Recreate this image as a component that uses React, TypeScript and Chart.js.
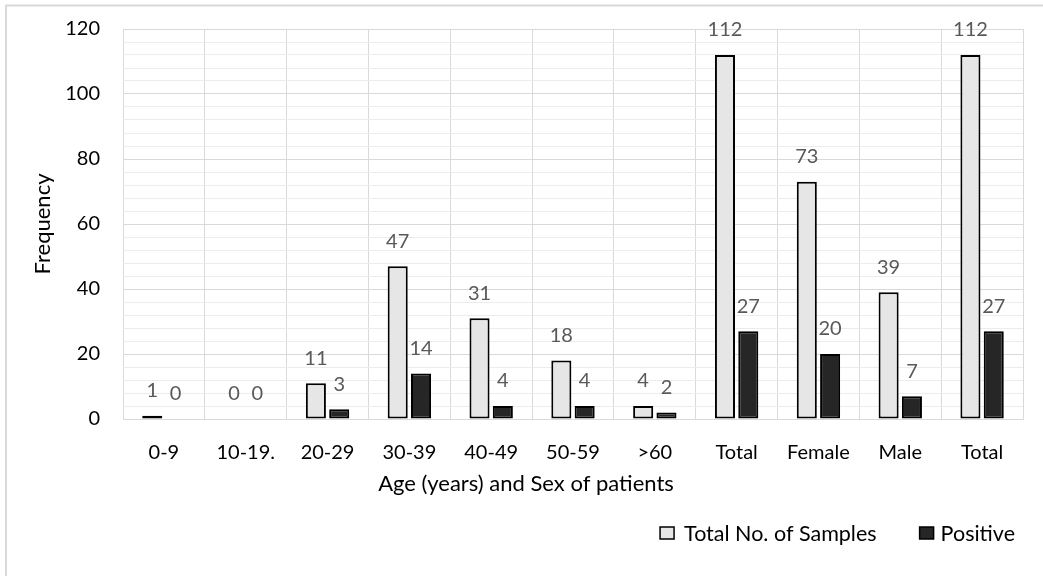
import React, { useEffect, useRef } from 'react';
import { Chart, registerables } from 'chart.js';

Chart.register(...registerables);

const FONT = 'Lato, "Open Sans", sans-serif';

const categories = ['0-9', '10-19.', '20-29', '30-39', '40-49', '50-59', '>60', 'Total', 'Female', 'Male', 'Total'];
const totalSamples = [1, 0, 11, 47, 31, 18, 4, 112, 73, 39, 112];
const positive = [0, 0, 3, 14, 4, 4, 2, 27, 20, 7, 27];
const seriesNames = ['Total No. of Samples', 'Positive'];
const yTitle = 'Frequency';
const xTitle = 'Age (years) and Sex of patients';

const dataLabels = {
  id: 'dataLabels',
  afterDatasetsDraw(chart: any) {
    const ctx = chart.ctx;
    ctx.save();
    ctx.font = `20px ${FONT}`;
    ctx.fillStyle = '#595959';
    ctx.textAlign = 'center';
    ctx.textBaseline = 'middle';
    chart.data.datasets.forEach((ds: any, i: number) => {
      const meta = chart.getDatasetMeta(i);
      meta.data.forEach((el: any, j: number) => {
        ctx.fillText(String(ds.data[j]), el.x, el.y - 25);
      });
    });
    ctx.restore();
  },
};

const frameAndLegend = {
  id: 'frameAndLegend',
  beforeDraw(chart: any) {
    const ctx = chart.ctx;
    ctx.save();
    ctx.fillStyle = '#ffffff';
    ctx.fillRect(0, 0, chart.width, chart.height);
    ctx.strokeStyle = '#d9d9d9';
    ctx.lineWidth = 2;
    ctx.beginPath();
    ctx.moveTo(6, chart.height + 5);
    ctx.lineTo(6, 5.5);
    ctx.lineTo(chart.width + 5, 5.5);
    ctx.stroke();
    ctx.restore();
  },
  afterDraw(chart: any) {
    const ctx = chart.ctx;
    const ds = chart.data.datasets;
    ctx.save();
    // x axis title (Excel places it left of the plot centre)
    ctx.font = `22px ${FONT}`;
    ctx.fillStyle = '#000000';
    ctx.textAlign = 'center';
    ctx.textBaseline = 'middle';
    ctx.fillText(xTitle, 526, 484);

    ctx.font = `21.5px ${FONT}`;
    ctx.textAlign = 'left';
    const cy = 533;
    const boxW = 14;
    const boxH = 12;
    const w1 = ctx.measureText(ds[0].label).width;
    const w2 = ctx.measureText(ds[1].label).width;
    const t2 = chart.width - 28 - w2;
    const b2 = t2 - 7 - boxW;
    const t1 = b2 - 43 - w1;
    const b1 = t1 - 10 - boxW;
    const items = [
      { b: b1, t: t1, d: ds[0] },
      { b: b2, t: t2, d: ds[1] },
    ];
    items.forEach((it) => {
      ctx.fillStyle = it.d.backgroundColor;
      ctx.fillRect(it.b, cy - boxH / 2, boxW, boxH);
      ctx.strokeStyle = it.d.borderColor;
      ctx.lineWidth = 1.5;
      ctx.strokeRect(it.b, cy - boxH / 2, boxW, boxH);
      ctx.fillStyle = '#000000';
      ctx.fillText(it.d.label, it.t, cy + 1);
    });
    ctx.restore();
  },
};

export default function App() {
  const ref = useRef<HTMLCanvasElement>(null);

  useEffect(() => {
    const chart = new Chart(ref.current as HTMLCanvasElement, {
      type: 'bar',
      data: {
        labels: categories,
        datasets: [
          {
            label: seriesNames[0],
            data: totalSamples,
            backgroundColor: '#e7e6e6',
            borderColor: '#000000',
            borderWidth: 2,
            borderSkipped: false,
            categoryPercentage: 0.57,
            barPercentage: 0.86,
          },
          {
            label: seriesNames[1],
            data: positive,
            backgroundColor: '#262626',
            borderColor: '#000000',
            borderWidth: 2,
            borderSkipped: false,
            categoryPercentage: 0.57,
            barPercentage: 0.86,
          },
        ],
      },
      options: {
        responsive: false,
        animation: false,
        layout: { padding: { top: 29, right: 20, left: 0, bottom: 77 } },
        plugins: {
          legend: { display: false },
          tooltip: { enabled: false },
        },
        scales: {
          x: {
            grid: { offset: true, drawTicks: false, color: '#d9d9d9', lineWidth: 1 },
            border: { color: '#d9d9d9', width: 1 },
            ticks: {
              padding: 22,
              color: '#000000',
              font: { family: FONT, size: 20 },
              autoSkip: false,
              maxRotation: 0,
            },
            afterFit: (s: any) => {
              s.height = 80;
            },
          },
          y: {
            min: 0,
            max: 120,
            grid: {
              drawTicks: false,
              color: (c: any) => (c.tick && c.tick.value % 20 === 0 ? '#d9d9d9' : '#ececec'),
              lineWidth: 1,
            },
            border: { display: false },
            ticks: {
              stepSize: 4,
              autoSkip: false,
              maxTicksLimit: 100,
              padding: 23,
              color: '#000000',
              font: { family: FONT, size: 20 },
              callback: (v: any) => (Number(v) % 20 === 0 ? String(v) : ''),
            },
            title: {
              display: true,
              text: yTitle,
              color: '#000000',
              font: { family: FONT, size: 22 },
              padding: { top: 30, bottom: 0 },
            },
            afterFit: (s: any) => {
              s.width = 123;
              s.paddingTop = 0;
              s.paddingBottom = 0;
            },
          },
        },
      },
      plugins: [frameAndLegend, dataLabels],
    });
    return () => chart.destroy();
  }, []);

  return (
    <div style={{ position: 'fixed', left: 0, top: 0, width: 1043, height: 576, background: '#ffffff' }}>
      <canvas ref={ref} width={1043} height={576} style={{ display: 'block', width: 1043, height: 576 }} />
    </div>
  );
}
